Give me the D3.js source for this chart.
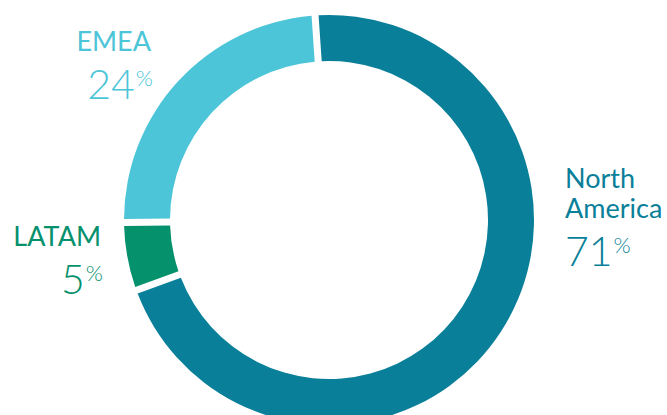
<!DOCTYPE html>
<html>
<head>
<meta charset="utf-8">
<script src="https://cdn.jsdelivr.net/npm/d3@7"></script>
<style>
  body { margin: 0; background: #fff; }
  text { font-family: Lato, "Open Sans", sans-serif; }
</style>
</head>
<body>
<svg id="drawing_region"></svg>
<script>
// data
const regions = ['North America', 'LATAM', 'EMEA'];
const shares = [71, 5, 24];
const colors = ['#0a7f99', '#06916d', '#4cc5d8'];

const config = {
    parent: '#drawing_region',
    width: 667,
    height: 415,
    cx: 329,
    cy: 220,
    outer: 205,
    inner: 159
};

const svg = d3.select(config.parent)
    .attr('width', config.width)
    .attr('height', config.height);

const chart = svg.append('g')
    .attr('transform', `translate(${config.cx}, ${config.cy})`);

const pie = d3.pie()
    .sort(null)
    .value(d => d)
    .startAngle(-0.068)
    .endAngle(2 * Math.PI - 0.068)
    .padAngle(0.027);

const arc = d3.arc()
    .innerRadius(config.inner)
    .outerRadius(config.outer);

chart.selectAll('path')
    .data(pie(shares))
    .enter()
    .append('path')
    .attr('d', arc)
    .attr('fill', (d, i) => colors[i]);

// label placement (page coords)
const labelPos = [
    { x: 565, y: 188, anchor: 'start', lines: ['North', 'America'] },
    { x: 101, y: 246, anchor: 'end', lines: ['LATAM'] },
    { x: 151, y: 51, anchor: 'end', lines: ['EMEA'] }
];

labelPos.forEach((p, i) => {
    const g = svg.append('g');
    const name = g.append('text')
        .attr('x', p.x)
        .attr('y', p.y)
        .attr('text-anchor', p.anchor)
        .attr('fill', colors[i])
        .style('font-size', '27px')
        .style('font-weight', 400);
    p.lines.forEach((l, j) => {
        name.append('tspan')
            .attr('x', p.x)
            .attr('dy', j === 0 ? 0 : 30)
            .text(l);
    });
    const vy = p.y + (p.lines.length - 1) * 30 + 48;
    const val = g.append('text')
        .attr('x', p.x + (p.anchor === 'end' ? 2 : 0))
        .attr('y', vy)
        .attr('text-anchor', p.anchor)
        .attr('fill', colors[i])
        .style('font-size', '41px')
        .style('font-weight', 300);
    val.append('tspan').text(shares[i]);
    val.append('tspan')
        .attr('dx', 1)
        .attr('dy', -13)
        .style('font-size', '22px')
        .text('%');
});
</script>
</body>
</html>
